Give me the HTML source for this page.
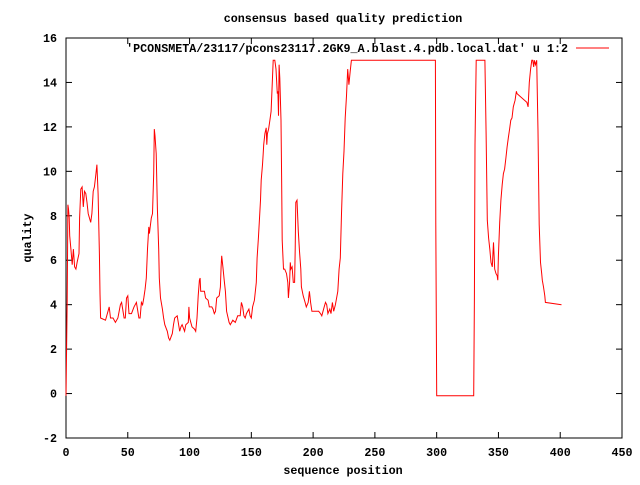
<!DOCTYPE html>
<html><head><meta charset="utf-8"><style>
body{margin:0;background:#fff;}
svg text{font-family:"Liberation Mono",monospace;font-weight:bold;font-size:11.7px;fill:#000;}
</style></head><body>
<svg id="chart" width="640" height="480" viewBox="0 0 640 480" xmlns="http://www.w3.org/2000/svg">
<rect width="640" height="480" fill="#fff"/>
<text x="343" y="22" text-anchor="middle">consensus based quality prediction</text>
<text x="343" y="474" text-anchor="middle">sequence position</text>
<text x="0" y="0" text-anchor="middle" transform="translate(31,238) rotate(-90)">quality</text>
<g id="axes"></g>
<g id="series"></g>
<text x="568" y="52" text-anchor="end">'PCONSMETA/23117/pcons23117.2GK9_A.blast.4.pdb.local.dat' u 1:2</text>
<line x1="576" y1="48" x2="609" y2="48" stroke="#f00" stroke-width="1"/>
</svg>
<script>
const xTicks=[0,50,100,150,200,250,300,350,400,450];
const yTicks=[-2,0,2,4,6,8,10,12,14,16];
const xs=[0,1,1.5,2,2.6,3,4,5,6,7,8,9,10.5,11,12,13,14,15,16,17,18,20,21,22,23,24,25,26,27,27.5,28,32,34,35,36,38,40,42,44,45,47,48,49,50,51,53,55,57,59,60,61,62,63,64,65,66,67,67.5,69,70,71,71.5,72,73,74,75,75.5,76.5,78,79,80,82,83,84,86,87,88,90,92,93,94,96,97,99,99.5,100,102,104,105,106,107,108,108.5,109,111,112,113,115,116,118,119,120,121,122,124,125,125.5,126,127,128,129,130,132,133,135,137,139,141,142,143,144,145,146,148,149,150,151,152.5,154,154.7,155.7,156.5,157.4,158,159,159.6,160,161,162,162.5,163,164,165,166,167,167.7,169,170,171,171.5,172,172.5,173,174,174.5,175,176,177,178.5,179.5,180,181,181.5,182,183,184,185,185.5,186,187,188,189,190,190.5,192,193.5,194.5,196,197,198,199,201,203,204.5,206,207,209,210,211,212,213.5,214.5,215.6,216.7,218,220,221,222,223,224,225,226,227,228,229,230,231,299,299.3,300,330,330.5,331,332,339,340,341,342,343,344,345,346,347,348,349,349.5,350,351,352,353,354,355,356,357,358,359,360,361,362,363,363.5,364,364.5,365,373,374,375,376,377,377.7,378.5,379,380,381,382,383,384,385,385.5,386.5,387.5,388,401];
const ys=[-0.1,4.2,8.5,8.3,7.9,7.1,6.5,5.8,6.5,5.7,5.6,5.9,6.3,7.9,9.2,9.3,8.4,9.1,9.0,8.6,8.1,7.7,8.1,9.1,9.3,9.8,10.3,9.0,6.3,4.5,3.4,3.3,3.7,3.9,3.4,3.4,3.2,3.4,4.0,4.1,3.4,3.4,4.3,4.4,3.6,3.6,3.9,4.1,3.4,3.4,4.1,4.0,4.3,4.7,5.2,6.5,7.5,7.2,7.9,8.1,9.9,11.9,11.6,10.8,8.3,6.5,5.2,4.3,3.8,3.4,3.1,2.8,2.5,2.4,2.7,3.1,3.4,3.5,2.8,3.0,3.1,2.8,3.1,3.2,3.9,3.4,3.0,2.9,2.8,3.4,4.4,5.1,5.2,4.6,4.6,4.6,4.3,4.2,3.9,3.9,3.8,3.6,3.7,4.3,4.4,4.8,5.7,6.2,5.7,5.1,4.6,3.7,3.2,3.1,3.3,3.2,3.5,3.5,4.1,3.9,3.5,3.4,3.6,3.8,3.5,3.4,3.9,4.2,5.0,6.1,7.0,7.8,8.7,9.6,10.3,10.8,11.2,11.7,11.96,11.2,11.7,11.9,12.3,12.7,14.0,15.0,15.0,14.6,13.5,13.6,12.5,14.8,14.2,12.3,9.8,6.9,5.6,5.6,5.4,5.0,4.3,5.0,5.9,5.6,5.7,5.0,5.0,6.5,8.6,8.7,7.3,6.4,5.6,4.8,4.4,4.1,3.9,4.1,4.6,4.1,3.7,3.7,3.7,3.7,3.6,3.5,3.9,4.1,4.0,3.6,3.8,3.6,4.1,3.7,4.0,4.6,5.6,6.1,8.1,9.9,10.9,12.4,13.4,14.6,13.9,14.5,15.0,15.0,7.6,-0.1,-0.1,4.3,11.2,15.0,15.0,11.7,7.8,7.0,6.5,5.9,5.7,6.8,5.6,5.4,5.3,5.1,6.2,7.7,8.7,9.4,9.9,10.1,10.6,11.1,11.5,11.9,12.3,12.4,12.9,13.1,13.2,13.4,13.6,13.5,13.1,12.9,14.0,14.6,15.0,15.0,14.7,15.0,14.8,15.0,11.8,7.6,5.9,5.4,5.1,4.8,4.4,4.1,4.0,3.9,4.6,4.6,2.2,-0.1,-0.1];
const X0=66,X1=622,Y0=438,Y1=38,xmin=0,xmax=450,ymin=-2,ymax=16;
const sx=v=>X0+(v-xmin)/(xmax-xmin)*(X1-X0);
const sy=v=>Y0-(v-ymin)/(ymax-ymin)*(Y0-Y1);
const NS="http://www.w3.org/2000/svg";
const axes=document.getElementById('axes');
function mk(t,a,p){const e=document.createElementNS(NS,t);for(const k in a)e.setAttribute(k,a[k]);p.appendChild(e);return e;}
const frame=mk('rect',{x:X0,y:Y1,width:X1-X0,height:Y0-Y1,fill:'none',stroke:'#000','stroke-width':1},axes);


xTicks.forEach(v=>{const x=sx(v);
 const t1=mk('line',{x1:x,y1:Y0,x2:x,y2:Y0-6,stroke:'#000'},axes);
 
 
 const t2=mk('line',{x1:x,y1:Y1,x2:x,y2:Y1+6,stroke:'#000'},axes);
 
 
 const l=mk('text',{x:x,y:Y0+18,'text-anchor':'middle'},axes);l.textContent=v;
 
 
});
yTicks.forEach(v=>{const y=sy(v);
 const t1=mk('line',{x1:X0,y1:y,x2:X0+6,y2:y,stroke:'#000'},axes);
 
 
 const t2=mk('line',{x1:X1,y1:y,x2:X1-6,y2:y,stroke:'#000'},axes);
 
 
 const l=mk('text',{x:X0-9,y:y+4,'text-anchor':'end'},axes);l.textContent=v;
 
 
});
let d='';xs.forEach((v,i)=>{d+=(i?'L':'M')+sx(v).toFixed(1)+','+sy(ys[i]).toFixed(1);});
const p=mk('path',{d:d,fill:'none',stroke:'#f00','stroke-width':1},document.getElementById('series'));


</script>
</body></html>
